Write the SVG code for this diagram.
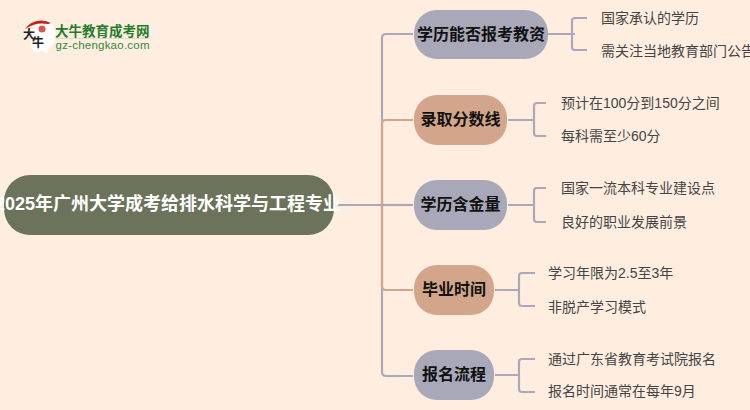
<svg xmlns="http://www.w3.org/2000/svg" width="750" height="410" viewBox="0 0 750 410">
<style>
text{font-family:"Liberation Sans","Noto Sans CJK SC",sans-serif}
.c{fill:none;stroke-width:2.2;stroke:#a9a9b9}
.o{stroke:#d3a68a}
.t{font-size:16px;font-weight:700;text-anchor:middle;fill:#111}
.l{font-size:14px;fill:#444}
.g{fill:#a8a8b8}.b{fill:#d3a58a}
</style>
<rect width="750" height="410" fill="#ffeee0"/>
<g id="logo">
<path d="M46 20a21 21 0 0 0-13 30c2 3 5 2 9 1l6 2-1-3c7-4 10-12 8-20-2-7-5-10-9-10z" fill="#fff"/>
<path d="M25 29a20 20 0 0 1 26-6l-3 1a30 30 0 0 0-23 5z" fill="#c8201c"/>
<circle cx="42" cy="29" r="3.5" fill="#d35a50"/>
<text x="23" y="39" font-size="12" fill="#222" font-weight="700">大</text>
<text x="32" y="47" font-size="12" fill="#222" font-weight="700">牛</text>
<text x="55" y="36" font-size="13.5" font-weight="700" fill="#1f7d2c">大牛教育成考网</text>
<rect x="55" y="38" width="95" height="1" fill="#d5dfcc"/>
<text x="55.500" y="49" font-size="11.500" fill="#2f8a3a" textLength="94">gz-chengkao.com</text>
</g>
<g id="connectors">
<path class="c" d="M335 205H382"/>
<path class="c" d="M413 34H386Q382 34 382 38V372Q382 376 386 376H413"/>
<path class="c o" d="M413 120H386Q382 120 382 124V205M413 290H386Q382 290 382 286V205"/>
<path class="c" d="M382 205H413"/>
<path class="c" d="M548 34H575M575 18Q572 18 572 21V47Q572 50 575 50H587M575 18H587"/>
<path class="c" d="M508 120H534M546 103H537Q534 103 534 106V133Q534 136 537 136H546"/>
<path class="c" d="M508 205H534M546 188H537Q534 188 534 191V219Q534 222 537 222H546"/>
<path class="c" d="M495 290H519M535 273H522Q519 273 519 276V303Q519 306 522 306H535"/>
<path class="c" d="M495 375H519M535 359H522Q519 359 519 362V389Q519 392 522 392H535"/>
</g>
<g id="root"><rect x="4" y="175" width="330" height="60" rx="26" fill="#6b735b"/><text x="168" y="210" font-size="18" font-weight="700" fill="#fff" text-anchor="middle">2025年广州大学成考给排水科学与工程专业</text></g>
<g id="n1"><rect class="g" x="414" y="10" width="134" height="49" rx="23"/><text class="t" x="481" y="40">学历能否报考教资</text></g>
<g id="n2"><rect class="b" x="414" y="95" width="93" height="50" rx="23"/><text class="t" x="460.500" y="125">录取分数线</text></g>
<g id="n3"><rect class="g" x="414" y="180" width="93" height="50" rx="23"/><text class="t" x="460.500" y="210">学历含金量</text></g>
<g id="n4"><rect class="b" x="414" y="265" width="80" height="50" rx="23"/><text class="t" x="454" y="295">毕业时间</text></g>
<g id="n5"><rect class="g" x="414" y="350" width="80" height="50" rx="23"/><text class="t" x="454" y="380">报名流程</text></g>
<g id="leaves">
<text class="l" x="601" y="23">国家承认的学历</text>
<text class="l" x="601" y="56">需关注当地教育部门公告</text>
<text class="l" x="561" y="108">预计在100分到150分之间</text>
<text class="l" x="561" y="141">每科需至少60分</text>
<text class="l" x="561" y="193">国家一流本科专业建设点</text>
<text class="l" x="561" y="227">良好的职业发展前景</text>
<text class="l" x="548" y="278">学习年限为2.5至3年</text>
<text class="l" x="548" y="312">非脱产学习模式</text>
<text class="l" x="548" y="364">通过广东省教育考试院报名</text>
<text class="l" x="548" y="396">报名时间通常在每年9月</text>
</g>
</svg>
